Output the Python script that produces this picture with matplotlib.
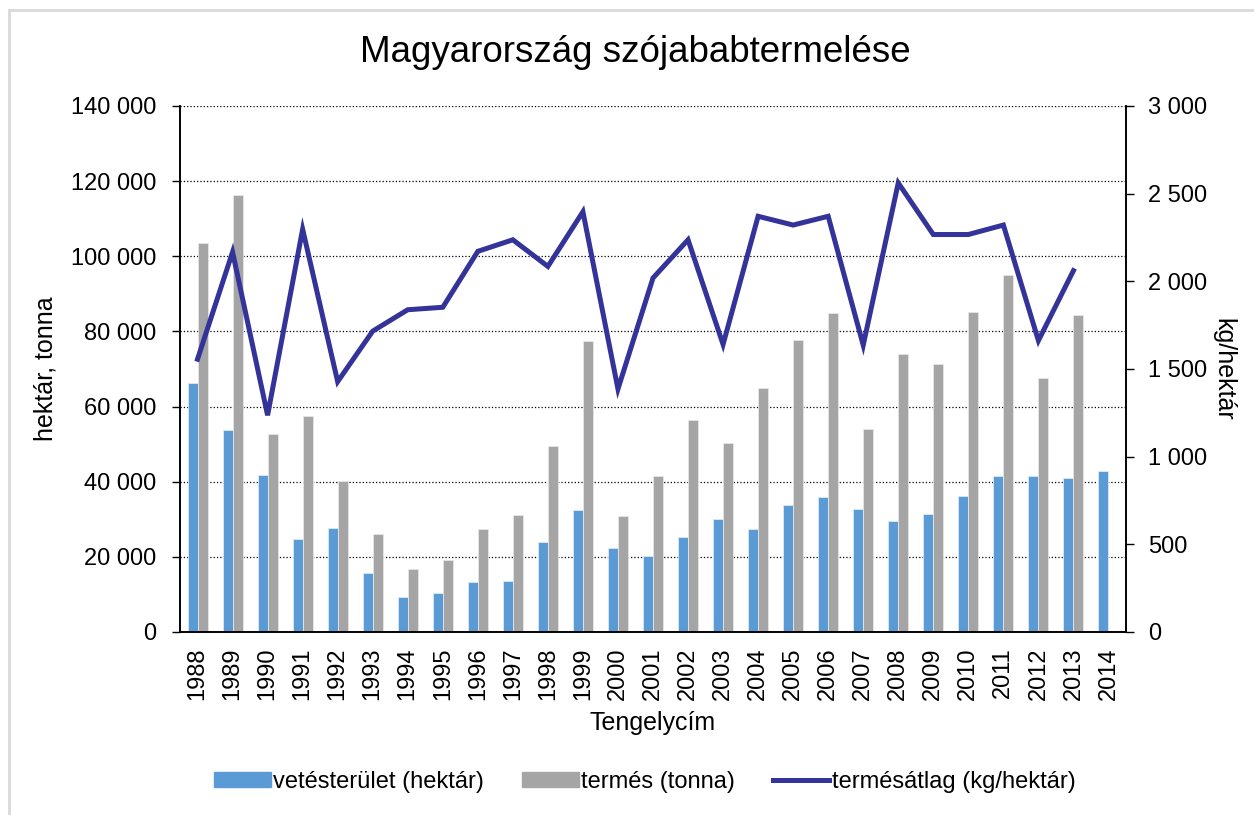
import matplotlib.pyplot as plt
import numpy as np
from matplotlib.ticker import FuncFormatter, MultipleLocator
from matplotlib.patches import Rectangle
from matplotlib.lines import Line2D

plt.rcParams['font.family'] = ['Liberation Sans', 'DejaVu Sans']

years = [str(y) for y in range(1988, 2015)]
# vetésterület (hektár)
area = [66300, 53700, 41800, 24700, 27700, 15800, 9400, 10300, 13300, 13700,
        24000, 32500, 22300, 20200, 25400, 30100, 27400, 33800, 36000, 32800,
        29500, 31400, 36300, 41400, 41400, 41000, 42800]
# termés (tonna), 2014 hiányzik
crop = [103500, 116400, 52600, 57400, 40200, 26000, 16900, 19200, 27400, 31100,
        49500, 77500, 30900, 41400, 56400, 50200, 64900, 77800, 85000, 54000,
        74100, 71300, 85300, 94900, 67600, 84300, np.nan]
# termésátlag (kg/hektár), 1988-2013
yld = [1556, 2167, 1236, 2297, 1428, 1716, 1838, 1852, 2171, 2237, 2085, 2397,
       1386, 2019, 2237, 1640, 2371, 2321, 2371, 1636, 2561, 2267, 2267, 2321,
       1662, 2061]

blue = '#5B9BD5'
gray = '#A5A5A5'
navy = '#333399'


def spaced(v, pos):
    return f"{int(round(v)):,}".replace(",", " ")


W, H = 1254, 815
fig = plt.figure(figsize=(W / 100, H / 100), dpi=100)
ax = fig.add_axes([180 / W, 1 - 632 / H, (1126 - 180) / W, (632 - 106) / H])
ax2 = ax.twinx()

x = np.arange(len(years))
w = 0.285
ax.bar(x - w / 2, area, w, color=blue, edgecolor='#dce9f5', linewidth=0.6, zorder=2)
ax.bar(x + w / 2, crop, w, color=gray, edgecolor='#e6e6e6', linewidth=0.6, zorder=2)
ax2.plot(x[:len(yld)], yld, color=navy, linewidth=3.6, solid_joinstyle='miter')

ax.set_xlim(-0.5, len(years) - 0.5)
ax.set_ylim(0, 140000)
ax2.set_ylim(0, 3000)
ax.yaxis.set_major_locator(MultipleLocator(20000))
ax2.yaxis.set_major_locator(MultipleLocator(500))
ax.yaxis.set_major_formatter(FuncFormatter(spaced))
ax2.yaxis.set_major_formatter(FuncFormatter(spaced))

ax.set_xticks(x)
ax.set_xticklabels(years, rotation=90)
ax.tick_params(axis='x', length=0, pad=11, labelsize=17)
ax.tick_params(axis='y', direction='out', length=6, width=1, pad=11, labelsize=17)
ax2.tick_params(axis='y', direction='out', length=6, width=1, pad=10, labelsize=17)

ax.grid(axis='y', linestyle=':', color='black', linewidth=0.9)
ax.set_axisbelow(True)
for a in (ax, ax2):
    a.spines['top'].set_visible(False)
    a.spines['left'].set_linewidth(1.2)
    a.spines['right'].set_linewidth(1.2)
    a.spines['bottom'].set_linewidth(1.2)

ax.set_ylabel('hektár, tonna', fontsize=18, labelpad=10)
ax2.set_ylabel('kg/hektár', fontsize=18, labelpad=3, rotation=270, va='bottom')
ax.set_xlabel('Tengelycím', fontsize=18, labelpad=8)
fig.suptitle('Magyarország szójababtermelése', fontsize=26.5, x=635 / W, y=1 - 52 / H,
             va='center')

handles = [Rectangle((0, 0), 1, 1, color=blue),
           Rectangle((0, 0), 1, 1, color=gray),
           Line2D([0], [0], color=navy, linewidth=3.6)]
fig.legend(handles, ['vetésterület (hektár)', 'termés (tonna)', 'termésátlag (kg/hektár)'],
           loc='center', bbox_to_anchor=(645 / W, 1 - 782 / H), ncol=3, frameon=False,
           fontsize=17, handlelength=2.4, handleheight=0.6, handletextpad=0.1,
           columnspacing=1.6)

fig.patches.append(Rectangle((9 / W, -0.1), 1.2, 1.1 - 10 / H, transform=fig.transFigure,
                             fill=False, edgecolor='#d9d9d9', linewidth=2))

plt.savefig('out.png', dpi=100)
